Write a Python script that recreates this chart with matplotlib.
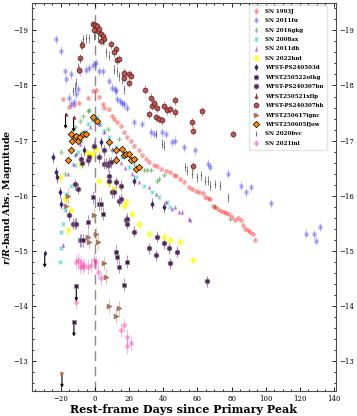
"""Comparison light curves: r/R-band absolute magnitude vs rest-frame days."""

import matplotlib
matplotlib.use("Agg")
import matplotlib.pyplot as plt
import numpy as np

plt.rcParams["font.family"] = "DejaVu Serif"
plt.rcParams["mathtext.fontset"] = "custom"
plt.rcParams["mathtext.it"] = "DejaVu Serif:italic:bold"
plt.rcParams["mathtext.rm"] = "DejaVu Serif:bold"

# ---- literature SNe -------------------------------------------------------
sn1993j_t = [-18.8, -15.0, -12.5, -9.5, -4.3, -1.4, 0.5, 2.5, 4.4, 5.4, 8.3, 10.2, 11.2,
             13.1, 15.1, 17.0, 19.0, 20.9, 22.8, 25.8, 27.7, 29.6, 31.6, 34.5, 36.5,
             38.5, 41.3, 44.0, 46.0, 47.5, 50.0, 52.0, 55.0, 57.0, 59.0, 61.0, 63.0,
             64.5, 66.0, 67.5, 69.0, 70.5, 72.0, 74.0, 75.5, 77.0, 78.5, 80.0, 82.0,
             84.0, 85.5, 86.5, 88.0, 89.5, 91.0, 92.5, 93.8]
sn1993j_m = [-17.75, -17.61, -17.64, -17.69, -17.78, -17.90, -17.92, -17.80, -17.66,
             -17.60, -17.57, -17.45, -17.39, -17.33, -17.27, -17.15, -17.06, -17.00,
             -16.91, -16.82, -16.73, -16.67, -16.61, -16.55, -16.53, -16.48, -16.45,
             -16.42, -16.38, -16.36, -16.30, -16.25, -16.15, -16.12, -16.08, -16.06,
             -16.05, -15.97, -15.95, -15.93, -15.82, -15.80, -15.75, -15.72, -15.71,
             -15.69, -15.66, -15.62, -15.55, -15.60, -15.55, -15.46, -15.40, -15.37,
             -15.34, -15.31, -15.20]

sn2011fu_t = [-22.7, -19.8, -17.9, -16.9, -14.0, -15.0, -14.0, -12.5, -11.0, -10.1, -9.1,
              -5.2, -3.3, -1.4, 0.6, 2.5, 4.4, 8.3, 10.2, 11.5, 12.0, 13.1, 14.5, 16.0,
              17.0, 19.0, 22.8, 27.7, 32.6, 34.5, 39.3, 41.3, 45.1, 47.1, 51.9, 58.7,
              66.4, 67.4, 78.1, 85.8, 88.7, 91.6, 103.3, 123.6, 128.5, 129.8, 132.0]
sn2011fu_m = [-18.84, -18.63, -18.26, -18.11, -18.20, -17.78, -17.66, -17.70, -17.84,
              -17.93, -18.26, -18.29, -18.32, -18.38, -18.40, -18.26, -18.26, -18.08,
              -17.96, -17.93, -17.90, -17.75, -17.72, -17.68, -17.66, -17.60, -17.33,
              -17.30, -17.15, -17.12, -17.15, -17.12, -16.97, -17.00, -16.88, -16.82,
              -16.58, -16.52, -16.40, -16.18, -16.06, -16.15, -15.86, -15.31, -15.30,
              -15.18, -15.43]

sn2016gkg_t = [-19.8, -17.8, -14.0, -12.0, -12.0, -9.1, -9.1, -7.2, -4.3, -3.3, 7.3, 10.2,
               14.1, 22.8, 23.8, 28.7, 30.6, 32.6, 36.4, 37.4, 40.3, 70.3, 79.0]
sn2016gkg_m = [-16.79, -16.40, -17.00, -17.24, -16.73, -17.36, -17.12, -17.45, -17.54,
               -17.55, -17.21, -16.82, -17.03, -16.58, -16.67, -16.46, -16.46, -16.46,
               -16.27, -16.31, -16.37, -15.79, -15.58]

sn2008ax_t = [-20.8, -19.8, -19.8, -18.8, -17.8, -16.9, -14.0, -12.0, -10.0, -8.0, -6.0,
              -4.3, -2.0, 1.2, 3.0, 5.4, 8.3, 12.2, 16.0, 19.9, 23.8, 28.7, 33.5, 37.4,
              42.2, 44.2]
sn2008ax_m = [-14.80, -15.04, -15.34, -15.49, -15.73, -16.03, -16.18, -16.55, -16.80,
              -17.00, -17.18, -17.30, -17.38, -17.42, -17.30, -17.18, -17.06, -16.88,
              -16.70, -16.52, -16.33, -16.18, -16.06, -15.97, -15.88, -15.79]

sn2011dh_t = [-18.8, -16.0, -13.0, -11.0, -9.0, -6.0, -3.0, 0.0, 2.5, 5.0, 7.5, 10.0,
              12.5, 15.0, 17.5, 21.9, 26.0, 31.6, 35.5, 41.3, 45.1, 47.0, 49.0, 51.0,
              54.8, 55.5]
sn2011dh_m = [-15.10, -16.40, -16.58, -16.76, -16.94, -17.10, -17.25, -17.35, -17.30,
              -17.15, -17.00, -16.85, -16.72, -16.60, -16.50, -16.40, -16.25, -16.15,
              -16.03, -15.88, -15.76, -15.79, -15.70, -15.70, -15.58, -15.55]

sn2022hnt_t = [-20.8, -17.8, -16.0, -14.0, -9.1, -5.0, -3.3, -1.4, 0.6, 2.5, 7.3, 8.3,
               11.2, 17.0, 18.0, 21.9, 25.8, 31.6, 40.3, 44.2, 50.0, 57.7]
sn2022hnt_m = [-16.33, -15.94, -15.37, -15.73, -16.58, -16.78, -16.76, -16.76, -16.85,
               -16.27, -16.24, -16.24, -16.12, -15.82, -15.88, -15.67, -15.49, -15.31,
               -15.25, -15.19, -15.16, -14.83]

sn2020bvc_t = [-13.0, -12.0, -11.0, -10.0, -9.1, -8.1, -7.2, -5.5, -3.5, -0.4, 1.5, 4.4,
               6.4, 8.3, 11.2, 13.1, 14.1, 16.0, 17.0, 35.5, 39.3, 40.3, 52.9, 54.0, 57.0,
               59.7, 62.0, 64.5, 66.4, 67.4, 70.3, 73.2, 77.7]
sn2020bvc_m = [-17.90, -17.96, -18.05, -18.32, -18.48, -18.75, -18.84, -18.86, -18.86,
               -18.90, -18.87, -18.81, -18.60, -18.54, -18.29, -18.26, -18.17, -18.11,
               -17.93, -17.12, -16.94, -16.91, -16.52, -16.45, -16.40, -16.33, -16.37,
               -16.27, -16.27, -16.18, -16.21, -16.18, -15.97]

sn2021inl_t = [-11.0, -10.1, -9.1, -8.0, -7.2, -6.2, -4.3, -2.3, -0.4, 0.6, 1.5, 3.5,
               -11.0, 15.1, 17.0, 19.0, 19.0, 21.0]
sn2021inl_m = [-14.80, -14.83, -14.71, -14.78, -14.71, -14.74, -14.71, -14.74, -14.83,
               -14.80, -14.62, -14.50, -14.07, -13.56, -13.65, -13.44, -13.26, -13.32]

# ---- WFST objects ---------------------------------------------------------
ps240503d_t = [-24.7, -22.7, -22.2, -20.8, -20.0, -6.2, 3.5, 8.3, 22.8, 33.5, 40.3]
ps240503d_m = [-16.70, -16.42, -16.33, -16.06, -15.85, -16.82, -16.97, -16.97, -16.27,
               -15.85, -15.79]
ps240503d_lim_t = [-29.5]
ps240503d_lim_m = [-14.96]

otkg_t = [-9.1, -8.1, -7.2, -4.3, -1.4, 2.5, 3.5, 4.4, 12.2, 13.1, 14.1, 17.0, 19.0]
otkg_m = [-15.19, -15.19, -15.19, -15.52, -15.97, -15.85, -15.85, -15.67, -14.98, -14.89,
          -14.71, -14.38, -14.80]
otkg_lim_t = [-11.0, -12.4]
otkg_lim_m = [-14.35, -13.71]

ps240307bn_t = [-15.0, -13.0, -12.0, -11.0, -12.0, -10.0, -8.1, -7.5, -4.3, -3.5, -0.4,
                2.5, 5.4, 5.4, 6.4, 7.3, 8.3, 9.3, 8.3, 8.3, 10.2, 11.2, 12.2, 14.1, 15.1,
                15.1, 18.0, 19.0, 19.0, 22.8, 31.6, 35.5, 36.4, 40.3, 43.2, 44.2, 48.0,
                65.5]
ps240307bn_m = [-15.64, -15.49, -15.49, -15.49, -16.21, -16.12, -16.67, -16.60, -16.64,
                -16.70, -16.91, -16.70, -16.82, -16.58, -16.58, -16.55, -16.60, -16.61,
                -16.36, -16.27, -16.06, -16.06, -16.24, -15.91, -16.18, -15.94, -15.55,
                -15.58, -15.49, -15.34, -15.04, -14.92, -15.25, -15.13, -15.04, -14.77,
                -14.98, -14.44]

xflp_lim_t = [-17.3, -12.6]
xflp_lim_m = [-17.48, -17.42]

ps240307bh_t = [-9.5, -9.1, -7.6, -1.4, 0.0, 1.0, -0.5, 1.5, 2.5, 3.5, 4.4, 5.4, 3.5, 9.3,
                12.2, 11.2, 12.6, 14.1, 17.0, 17.0, 19.9, 19.9, 20.9, 29.2, 31.6, 32.6,
                33.5, 34.5, 35.5, 36.4, 37.4, 39.3, 40.3, 42.2, 44.2, 46.7, 47.1, 56.8,
                57.7, 57.7, 62.6, 81.0]
ps240307bh_m = [-18.29, -18.50, -18.73, -19.11, -19.10, -19.08, -19.00, -18.99, -19.02,
                -18.93, -18.90, -18.84, -18.81, -18.75, -18.66, -18.60, -18.46, -18.48,
                -18.23, -18.14, -18.05, -18.20, -18.18, -17.92, -17.48, -17.78, -17.63,
                -17.69, -17.42, -17.60, -17.39, -17.37, -17.63, -17.55, -17.57, -17.51,
                -17.73, -17.33, -17.18, -16.53, -17.53, -17.12]

ignc_t = [-16.9, -16.0, -4.3, -3.3, -0.4, 0.6, 1.5, 5.4, 6.4, 8.3, 12.2, 14.1]
ignc_m = [-15.81, -16.00, -15.25, -15.16, -15.64, -15.30, -15.16, -14.78, -14.53, -14.00,
          -13.82, -13.95]
ignc_lim_t = [-19.4]
ignc_lim_m = [-12.78]

fjow_t = [-15.9, -14.0, -14.0, -13.5, -12.0, -11.0, -10.1, -9.1, -7.2, -5.2, -1.0, 1.0,
          8.3, 12.2, 12.2, 16.0, 17.0, 18.0, 19.9, 20.9, 22.8, 23.8, 25.8]
fjow_m = [-16.64, -16.82, -17.12, -17.00, -17.05, -17.08, -17.00, -17.06, -17.12, -17.12,
          -17.42, -17.36, -16.97, -16.82, -16.64, -16.85, -16.73, -16.76, -16.76, -16.64,
          -16.67, -16.49, -16.52]


def series(ax, t, m, err, label, color, marker, ms=3.5, alpha=1.0, mec="none",
           ecolor=None, mew=0.5):
    ax.errorbar(t, m, yerr=err, fmt=marker, color=color, ms=ms, alpha=alpha, mec=mec,
                mew=mew, ecolor=ecolor or color, elinewidth=0.6, capsize=0,
                label=label, zorder=3)


def limits(ax, t, m, color, marker, ms=3.0, mec="none"):
    for x, y in zip(t, m):
        ax.annotate("", xy=(x, y + 0.27), xytext=(x, y),
                    arrowprops=dict(arrowstyle="-|>", color="black", lw=0.8,
                                    mutation_scale=4, shrinkA=0, shrinkB=0), zorder=4)
    ax.plot(t, m, marker, color=color, ms=ms, mec=mec, mew=0.5, zorder=5)


fig = plt.figure(figsize=(3.57, 4.16), dpi=100)
ax = fig.add_axes([0.089, 0.060, 0.852, 0.933])

series(ax, sn1993j_t, sn1993j_m, 0.03, "SN 1993J", "red", "o", alpha=0.3)
series(ax, sn2011fu_t, sn2011fu_m, 0.08, "SN 2011fu", "blue", "s", alpha=0.3)
series(ax, sn2016gkg_t, sn2016gkg_m, 0.04, "SN 2016gkg", "green", "P", alpha=0.3)
series(ax, sn2008ax_t, sn2008ax_m, 0.03, "SN 2008ax", "c", "X", alpha=0.4)
series(ax, sn2011dh_t, sn2011dh_m, 0.03, "SN 2011dh", "darkviolet", "^", ms=3.0,
       alpha=0.4)
series(ax, sn2022hnt_t, sn2022hnt_m, 0.08, "SN 2022hnt", "yellow", "D", alpha=0.7)
series(ax, ps240503d_t, ps240503d_m, 0.1, "WFST-PS240503d", "#3a2470", "d",
       ecolor="#8a70b0")
series(ax, otkg_t, otkg_m, 0.12, "WFST250522otkg", "#4a1656", "s", mec="0.55",
       ecolor="#a080b0")
series(ax, ps240307bn_t, ps240307bn_m, 0.1, "WFST-PS240307bn", "#5c2466", "o",
       mec="0.5", ecolor="#a070a8")
series(ax, [], [], 0.1, "WFST250521xflp", "#9a2a3a", "^", ms=3.0)
series(ax, ps240307bh_t, ps240307bh_m, 0.08, "WFST-PS240307bh", "#c45050", "o",
       mec="#4a2020", ecolor="#d08080")
series(ax, ignc_t, ignc_m, 0.13, "WFST250617ignc", "#c8683a", ">", mec="0.5",
       ecolor="#f0b090")
series(ax, fjow_t, fjow_m, 0.05, "WFST250605fjow", "darkorange", "D", ms=3.3,
       mec="black")
series(ax, sn2020bvc_t, sn2020bvc_m, 0.08, "SN 2020bvc", "0.3", ".", ms=2.0,
       ecolor="0.45")
series(ax, sn2021inl_t, sn2021inl_m, 0.13, "SN 2021inl", "deeppink", "o", alpha=0.35)

limits(ax, ps240503d_lim_t, ps240503d_lim_m, "#3a2470", "d")
limits(ax, otkg_lim_t, otkg_lim_m, "#4a1656", "s", mec="0.55")
limits(ax, xflp_lim_t, xflp_lim_m, "#9a2a3a", "^")
limits(ax, ignc_lim_t, ignc_lim_m, "#e06030", ">")

ax.axvline(0, color="0.55", ls=(0, (7, 4)), lw=1.0, zorder=1)

ax.set_xlim(-37.1, 141.2)
ax.set_ylim(-12.45, -19.5)
ax.set_xticks(np.arange(-20, 141, 20))
ax.set_xticks(np.arange(-35, 141, 5), minor=True)
ax.set_yticks(np.arange(-19, -12.9, 1))
ax.set_yticks(np.arange(-19.4, -12.4, 0.2), minor=True)
ax.tick_params(which="both", direction="in", top=True, right=True, labelright=True,
               labelsize=5.0, width=0.6, pad=2.5)
ax.tick_params(which="major", length=3)
ax.tick_params(which="minor", length=1.5)
for sp in ax.spines.values():
    sp.set_linewidth(0.8)
    sp.set_color("0.3")

ax.set_xlabel("Rest-frame Days since Primary Peak", fontsize=8, fontweight="bold",
              labelpad=1)
ax.set_ylabel("$r$/$R$-band Abs. Magnitude", fontsize=6.8, fontweight="bold")
ax.yaxis.set_label_coords(-0.057, 0.5)

leg = ax.legend(loc="upper right", bbox_to_anchor=(0.975, 0.998),
                prop={"family": "DejaVu Serif", "weight": "bold", "size": 4},
                handletextpad=0.9, labelspacing=0.8, borderpad=0.7, framealpha=0.9,
                edgecolor="0.88", handlelength=1.3, borderaxespad=0.2)

fig.savefig("out.png", dpi=100)
